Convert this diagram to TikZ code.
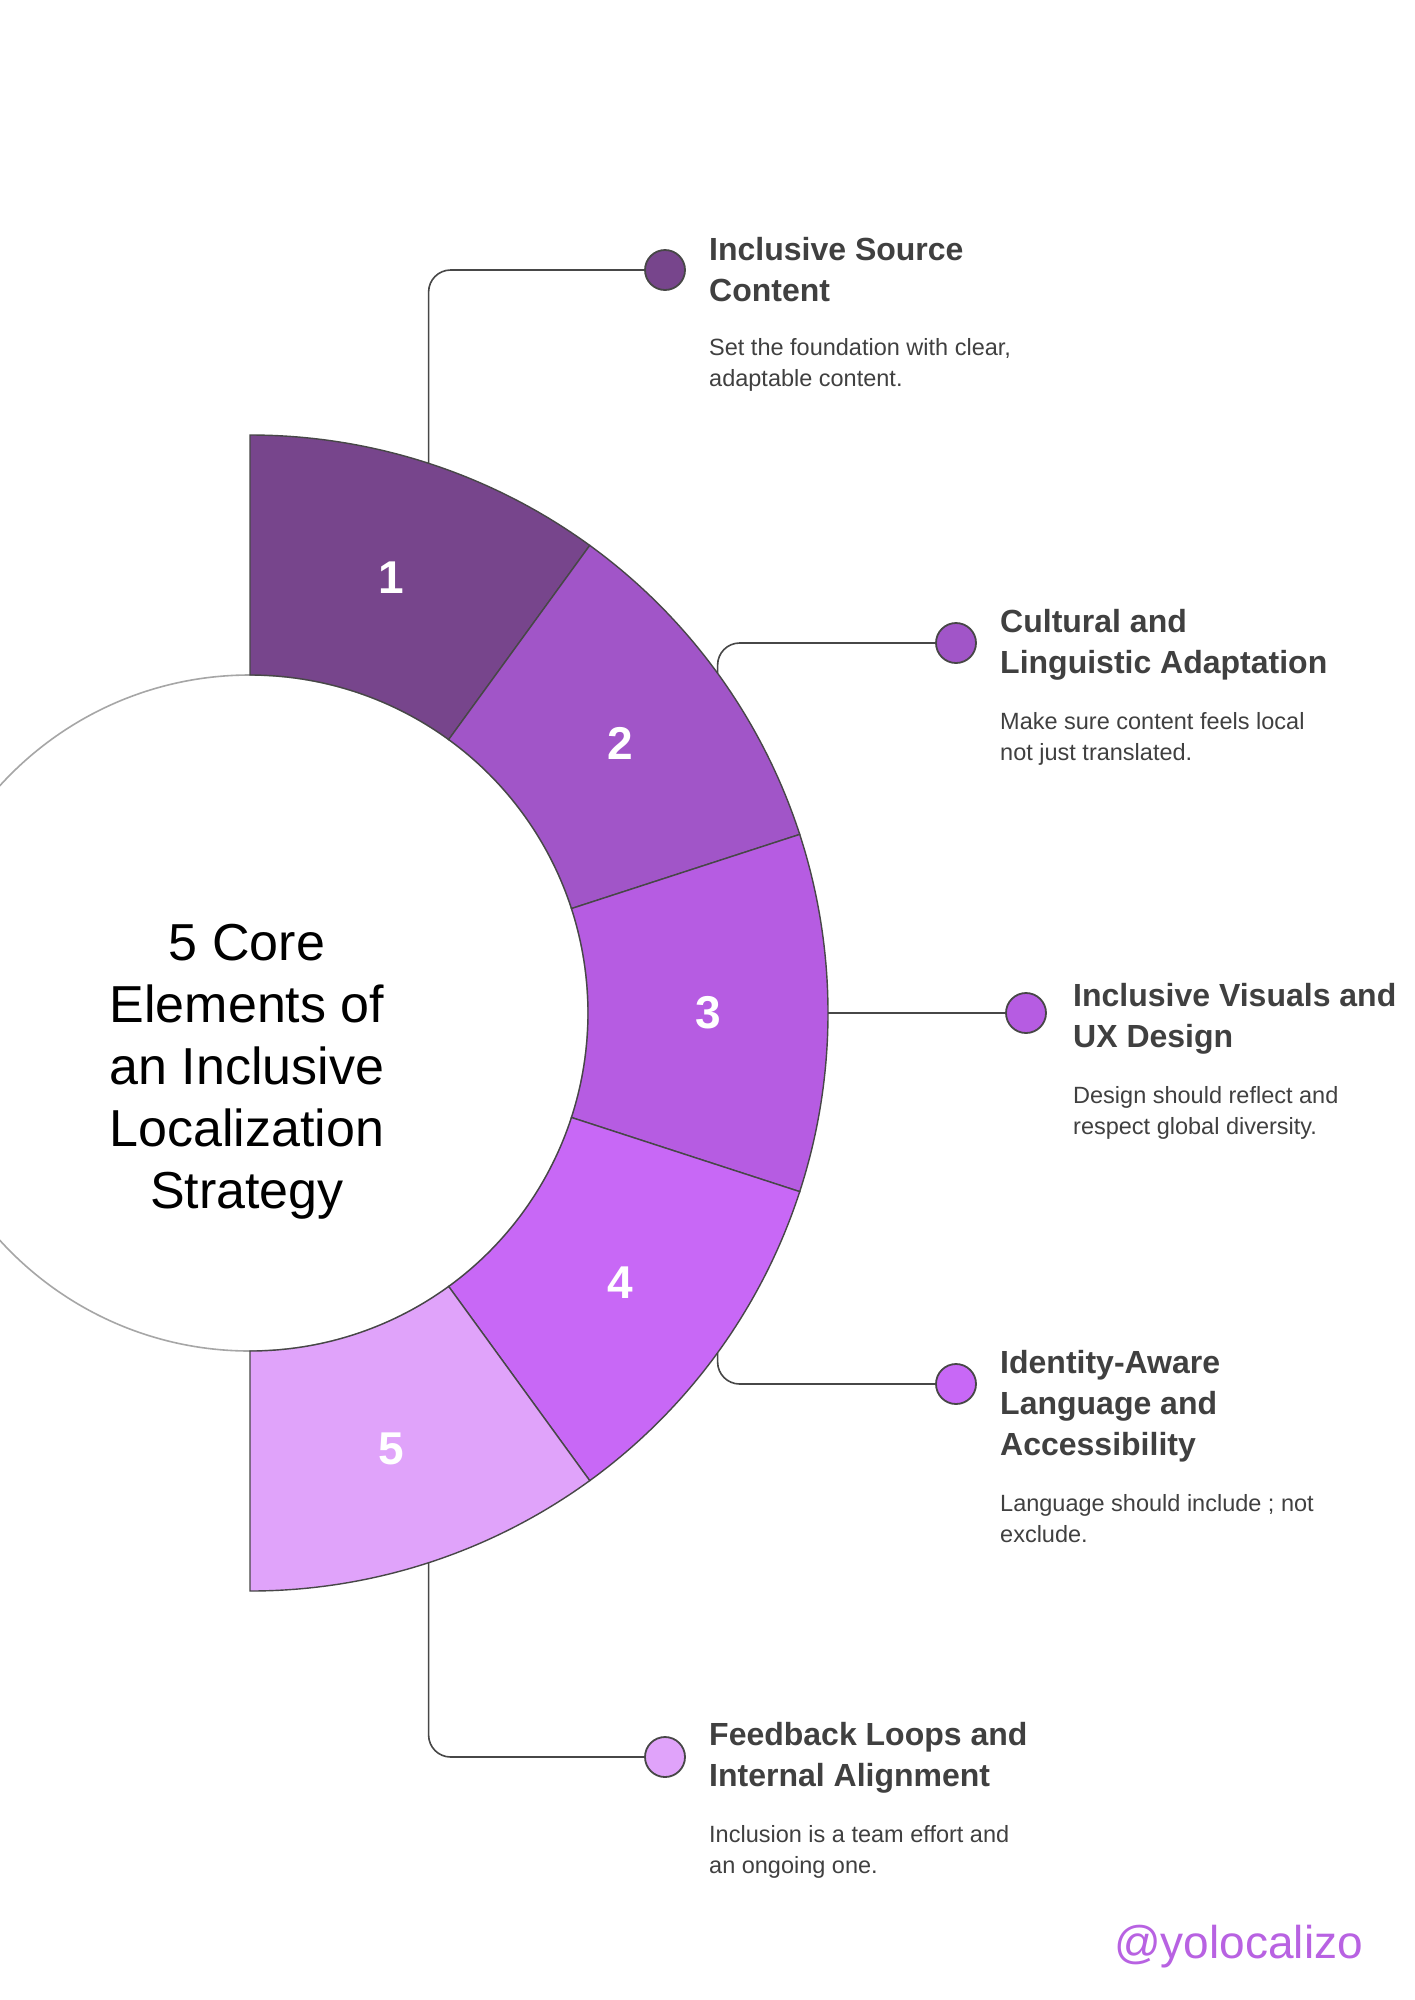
\documentclass[tikz,border=0pt]{standalone}
\usepackage{fontspec}
\setmainfont{Liberation Sans}
\begin{document}
\begin{tikzpicture}[x=1pt,y=-1pt,
  seg/.style={draw=black!72,line width=1.4pt},
  num/.style={text=white,font=\bfseries\fontsize{46}{46}\selectfont},
  dot/.style={circle,draw=black!72,line width=1.8pt,minimum size=40pt,inner sep=0pt},
  conn/.style={draw=black!72,line width=1.6pt,rounded corners=22pt},
  ttl/.style={anchor=base west,align=left,text=black!75,inner sep=0pt,font=\bfseries\fontsize{32}{41}\selectfont},
  dsc/.style={anchor=base west,align=left,text=black!75,inner sep=0pt,font=\fontsize{23.5}{31}\selectfont}]
\definecolor{c1}{HTML}{77458C}
\definecolor{c2}{HTML}{A155C8}
\definecolor{c3}{HTML}{B65CE2}
\definecolor{c4}{HTML}{C868F6}
\definecolor{c5}{HTML}{E0A3FA}
\definecolor{wm}{HTML}{B862E2}
\useasboundingbox (0,0) rectangle (1414,2000);
\fill[white] (0,0) rectangle (1414,2000);
\coordinate (O) at (250,1013);
\draw[black!35,line width=1.6pt,fill=white] (O) circle[radius=338];
\foreach \i/\a/\c in {1/90/c1,2/54/c2,3/18/c3,4/-18/c4,5/-54/c5}{
  \path[seg,fill=\c] ([shift={(-\a:338)}]O) -- ([shift={(-\a:578)}]O)
    arc[start angle=-\a,delta angle=36,radius=578]
    -- ([shift={(-\a+36:338)}]O) arc[start angle=-\a+36,delta angle=-36,radius=338] -- cycle;
  \node[num] (n\i) at ([shift={(-\a+18:458)}]O) {\i};
  \coordinate (a\i) at ([shift={(-\a+18:578)}]O);
}
\node[align=center,font=\fontsize{52}{62}\selectfont] (center) at (247,1072)
 {5 Core\\Elements of\\an Inclusive\\Localization\\Strategy};
\node[dot,fill=c1] (d1) at (665,270) {};
\node[dot,fill=c2] (d2) at (956,643) {};
\node[dot,fill=c3] (d3) at (1026,1013) {};
\node[dot,fill=c4] (d4) at (956,1384) {};
\node[dot,fill=c5] (d5) at (665,1757) {};
\draw[conn] (a1) -- (a1 |- d1) -- (d1.west);
\draw[conn] (a2) -- (a2 |- d2) -- (d2.west);
\draw[conn] (a3) -- (d3.west);
\draw[conn] (a4) -- (a4 |- d4) -- (d4.west);
\draw[conn] (a5) -- (a5 |- d5) -- (d5.west);
\node[ttl] (t1) at (709,301) {Inclusive Source\\Content};
\node[dsc] (s1) at (709,386) {Set the foundation with clear,\\adaptable content.};
\node[ttl] (t2) at (1000,673) {Cultural and\\Linguistic Adaptation};
\node[dsc] (s2) at (1000,760) {Make sure content feels local\\not just translated.};
\node[ttl] (t3) at (1073,1047) {Inclusive Visuals and\\UX Design};
\node[dsc] (s3) at (1073,1134) {Design should reflect and\\respect global diversity.};
\node[ttl] (t4) at (1000,1455) {Identity-Aware\\Language and\\Accessibility};
\node[dsc] (s4) at (1000,1542) {Language should include ; not\\exclude.};
\node[ttl] (t5) at (709,1786) {Feedback Loops and\\Internal Alignment};
\node[dsc] (s5) at (709,1873) {Inclusion is a team effort and\\an ongoing one.};
\node[anchor=base west,inner sep=0pt,text=wm,font=\fontsize{46}{46}\selectfont] (w) at (1114,1958) {@yolocalizo};
\end{tikzpicture}
\end{document}
